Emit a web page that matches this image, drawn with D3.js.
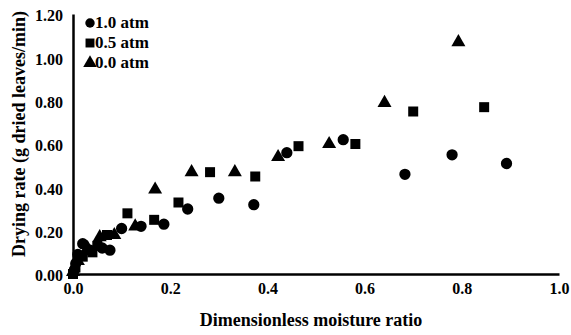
<!DOCTYPE html>
<html>
<head>
<meta charset="utf-8">
<script src="https://cdn.jsdelivr.net/npm/d3@7"></script>
<style>
  body { margin: 0; background: #fff; }
  svg text { font-family: "Liberation Serif", "Times New Roman", Times, serif !important; font-weight: bold; fill: #000; }
</style>
</head>
<body>
<div id="chart"></div>
<script>
// moisture ratio / drying rate pairs
const atm10 = [[0.003,0.02],[0.006,0.05],[0.01,0.09],[0.02,0.14],[0.035,0.11],[0.06,0.12],[0.076,0.11],
  [0.10,0.21],[0.14,0.22],[0.187,0.23],[0.236,0.30],[0.30,0.35],[0.372,0.32],[0.44,0.56],
  [0.556,0.62],[0.683,0.46],[0.78,0.55],[0.892,0.51]];
const atm05 = [[0.0,0.0],[0.005,0.03],[0.02,0.08],[0.04,0.10],[0.05,0.13],[0.07,0.18],[0.112,0.28],
  [0.167,0.25],[0.217,0.33],[0.282,0.47],[0.375,0.45],[0.464,0.59],[0.581,0.60],[0.70,0.75],[0.846,0.77]];
const atm00 = [[0.0,0.01],[0.01,0.06],[0.03,0.12],[0.055,0.17],[0.085,0.18],[0.128,0.22],[0.169,0.39],
  [0.244,0.47],[0.333,0.47],[0.422,0.54],[0.527,0.60],[0.641,0.79],[0.793,1.07]];
const seriesNames = ["1.0 atm", "0.5 atm", "0.0 atm"];
const xTicks = [0, 0.2, 0.4, 0.6, 0.8, 1.0];
const yTicks = [0, 0.2, 0.4, 0.6, 0.8, 1.0, 1.2];

const width = 571, height = 335;
const svg = d3.select("#chart").append("svg")
    .attr("width", width)
    .attr("height", height);

const x = d3.scaleLinear().domain([0, 1]).range([73, 559]);
const y = d3.scaleLinear().domain([0, 1.2]).range([274, 14]);

const shapes = [d3.symbolCircle, d3.symbolSquare, d3.symbolTriangle];
const sizes = [100, 100, 85];
const series = [atm10, atm05, atm00];

// axes: plain lines, no ticks
svg.append("g")
    .attr("transform", `translate(0,${y(0)})`)
    .call(d3.axisBottom(x).tickValues(xTicks).tickSize(0).tickPadding(9).tickFormat(d3.format(".1f")))
    .call(g => g.select(".domain").attr("stroke", "#000").attr("stroke-width", 2.5))
    .call(g => g.selectAll("text").attr("font-size", 16));

svg.append("g")
    .attr("transform", `translate(${x(0)},0)`)
    .call(d3.axisLeft(y).tickValues(yTicks).tickSize(0).tickPadding(10).tickFormat(d3.format(".2f")))
    .call(g => g.select(".domain").attr("stroke", "#000").attr("stroke-width", 2.5))
    .call(g => g.selectAll("text").attr("font-size", 16).attr("dy", "0.42em"));

// points
series.forEach((data, i) => {
  svg.append("g")
    .selectAll("path")
    .data(data)
    .join("path")
      .attr("transform", d => `translate(${x(d[0])},${y(d[1])})`)
      .attr("d", d3.symbol().type(shapes[i]).size(sizes[i]))
      .attr("fill", "#000");
});

// legend
const legend = svg.append("g").attr("transform", "translate(90,23)");
seriesNames.forEach((name, i) => {
  const row = legend.append("g").attr("transform", `translate(0,${i * 20})`);
  row.append("path")
    .attr("d", d3.symbol().type(shapes[i]).size(i == 0 ? 70 : 80))
    .attr("fill", "#000");
  row.append("text")
    .attr("x", 5)
    .attr("y", 5)
    .attr("font-size", 17)
    .text(name);
});

// axis titles
svg.append("text")
    .attr("x", 311)
    .attr("y", 326)
    .attr("text-anchor", "middle")
    .attr("font-size", 18)
    .text("Dimensionless moisture ratio");

svg.append("text")
    .attr("transform", "translate(25,134) rotate(-90)")
    .attr("text-anchor", "middle")
    .attr("font-size", 18)
    .text("Drying rate (g dried leaves/min)");
</script>
</body>
</html>
